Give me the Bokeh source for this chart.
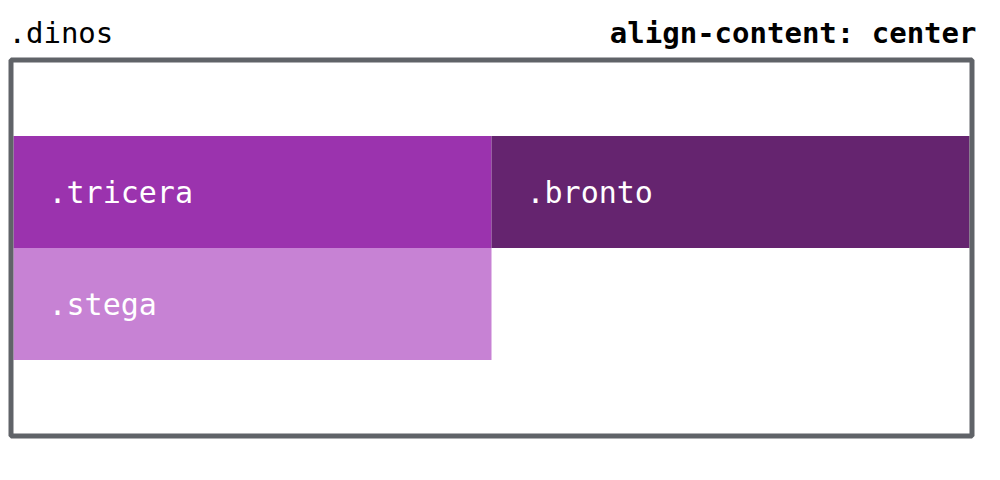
from bokeh.plotting import figure
from bokeh.models import Range1d, ColumnDataSource
from bokeh.core.properties import value
from bokeh.embed import file_html
from bokeh.resources import INLINE

# grid items: name, column, row, colour
names = [".tricera", ".bronto", ".stega"]
cols = [0, 1, 0]
rows = [0, 0, 1]
colors = ["#9b33ae", "#65246f", "#c782d4"]
container_label = ".dinos"
property_label = "align-content: center"

# page pixel geometry
left, right, top, bottom = 21, 977, 70, 441
cell_w = (right - left) / 2
cell_h = 112
grid_top = (top + bottom) / 2 - cell_h  # centered content

p = figure(width=984, height=464, output_backend="svg", toolbar_location=None,
           x_range=Range1d(8, 992), y_range=Range1d(472, 8), min_border=0,
           outline_line_color=None)
p.axis.visible = False
p.grid.visible = False

xs = [left + c * cell_w + cell_w / 2 for c in cols]
ys = [grid_top + r * cell_h + cell_h / 2 for r in rows]
src = ColumnDataSource(dict(x=xs, y=ys, c=colors, n=names,
                            tx=[left + c * cell_w + 35 for c in cols]))
p.rect("x", "y", width=cell_w, height=cell_h, fill_color="c", line_color=None, source=src)
p.text("tx", "y", text="n", text_color="white", text_font=value("DejaVu Sans Mono"),
       text_font_size="30px", text_baseline="middle", source=src)

# container border
p.rect([(left + right) / 2], [(top + bottom) / 2], width=right - left + 5, height=bottom - top + 5,
       fill_color=None, line_color="#606368", line_width=5)

p.text([16], [40], text=[container_label], text_font=value("DejaVu Sans Mono"),
       text_font_size="29px", text_baseline="middle", text_color="black")
p.text([984], [40], text=[property_label], text_font=value("DejaVu Sans Mono"),
       text_font_size="29px", text_font_style="bold", text_align="right",
       text_baseline="middle", text_color="black")

open("out.html", "w").write(file_html(p, INLINE))
